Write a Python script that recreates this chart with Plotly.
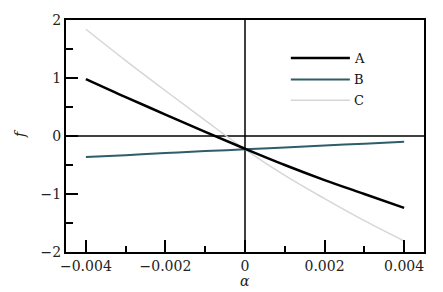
import plotly.graph_objects as go

alpha = [-0.004, -0.003, -0.002, -0.001, 0.0, 0.001, 0.002, 0.003, 0.004]
f_A = [0.98, 0.67, 0.37, 0.07, -0.22, -0.50, -0.76, -1.00, -1.24]
f_B = [-0.36, -0.33, -0.295, -0.26, -0.23, -0.197, -0.165, -0.132, -0.10]
f_C = [1.84, 1.30, 0.78, 0.27, -0.23, -0.68, -1.08, -1.46, -1.81]
series_names = ["A", "B", "C"]
series_colors = ["#000000", "#2e5d6b", "#d6d6d6"]
series_widths = [2.5, 2, 1.5]

x_tickvals = [-0.004, -0.002, 0, 0.002, 0.004]
x_ticktext = ["\u22120.004", "\u22120.002", "0", "0.002", "0.004"]
y_tickvals = [-2, -1, 0, 1, 2]
y_ticktext = ["\u22122", "\u22121", "0", "1", "2"]

FONT = "DejaVu Serif, Liberation Serif, serif"

fig = go.Figure()
# draw C first, then B, then A on top
for idx in [2, 1, 0]:
    ys = [f_A, f_B, f_C][idx]
    fig.add_trace(go.Scatter(x=alpha, y=ys, mode="lines", name=series_names[idx],
                             line=dict(color=series_colors[idx], width=series_widths[idx],
                                       shape="spline", smoothing=1.0),
                             showlegend=False))

# zero lines
fig.add_shape(type="line", xref="x", yref="paper", x0=0, x1=0, y0=0, y1=1,
              line=dict(color="black", width=1.5), layer="below")
fig.add_shape(type="line", xref="paper", yref="y", x0=0, x1=1, y0=0, y1=0,
              line=dict(color="black", width=1.5), layer="below")

# manual legend
leg_y = [0.836, 0.744, 0.654]
for name, c, w, ly in zip(series_names, series_colors, series_widths, leg_y):
    fig.add_shape(type="line", xref="paper", yref="paper", x0=0.628, x1=0.793, y0=ly, y1=ly,
                  line=dict(color=c, width=w))
    fig.add_annotation(xref="paper", yref="paper", x=0.800, y=ly, text=name, showarrow=False,
                       xanchor="left", yanchor="middle", font=dict(family=FONT, size=13, color="#111"))

# axis titles
fig.add_annotation(xref="paper", yref="paper", x=0.5, y=-0.125, text="<i>\u03b1</i>",
                   showarrow=False, xanchor="center", yanchor="middle",
                   font=dict(family=FONT, size=14, color="#222"))
fig.add_annotation(xref="paper", yref="paper", x=-0.1285, y=0.513, text="<i>f</i>",
                   showarrow=False, xanchor="center", yanchor="middle", textangle=-90,
                   font=dict(family=FONT, size=14, color="#222"))

fig.update_layout(
    width=435, height=284,
    margin=dict(l=58, r=19, t=12, b=40),
    paper_bgcolor="white", plot_bgcolor="white",
    font=dict(family=FONT, size=14, color="#222"),
)
fig.update_xaxes(range=[-0.0045, 0.0045], showgrid=False, zeroline=False, automargin=False,
                 showline=True, linecolor="black", linewidth=2, mirror=True,
                 tickmode="array", tickvals=x_tickvals, ticktext=x_ticktext,
                 ticks="inside", ticklen=12, tickwidth=1.5, tickcolor="black",
                 minor=dict(ticks="inside", dtick=0.001, tick0=0, ticklen=6, tickwidth=1.5, tickcolor="black"))
fig.update_yaxes(range=[-2, 2], showgrid=False, zeroline=False, automargin=False,
                 showline=True, linecolor="black", linewidth=2, mirror=True,
                 tickmode="array", tickvals=y_tickvals, ticktext=y_ticktext,
                 ticks="inside", ticklen=12, tickwidth=1.5, tickcolor="black",
                 minor=dict(ticks="inside", dtick=0.5, tick0=0, ticklen=7, tickwidth=1.5, tickcolor="black"))

fig.write_html("out.html")
